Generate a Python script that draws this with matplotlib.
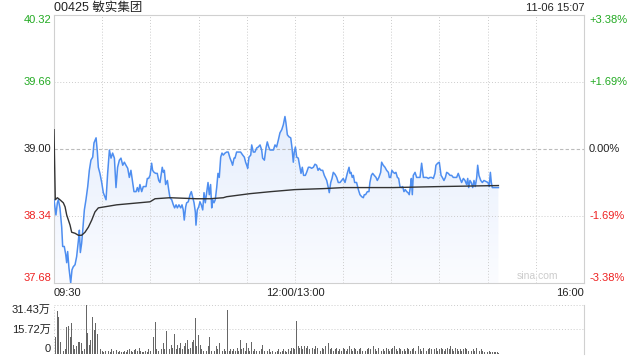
import numpy as np
import matplotlib
matplotlib.use('Agg')
import matplotlib.pyplot as plt
from matplotlib.colors import LinearSegmentedColormap

plt.rcParams['font.family'] = ['Liberation Sans', 'Noto Sans CJK SC', 'DejaVu Sans']

##### data #####
title = '00425 敏实集团'
stamp = '11-06 15:07'
prev_close = 39.00
price_ticks = [40.32, 39.66, 39.00, 38.34, 37.68]
pct_ticks = ['+3.38%', '+1.69%', '0.00%', '-1.69%', '-3.38%']
vol_ticks = [31.43, 15.72, 0]
vol_tick_labels = ['31.43万', '15.72万', '0']
time_labels = ['09:30', '12:00/13:00', '16:00']
time_pos = [0, 150, 330]   # trading minutes since 09:30

# minute offset since open (lunch removed) / last price
times = [0.0, 1.2, 2.1, 2.7, 3.7, 4.8, 5.4, 6.4, 7.3, 7.9, 8.5, 9.3, 10.4, 11.2, 12.0, 13.1,
         14.1, 15.2, 15.8, 16.4, 17.2, 17.9, 18.9, 19.9, 21.0, 22.0, 23.0, 24.1, 24.9, 26.2,
         27.0, 27.6, 28.6, 29.7, 30.7, 32.4, 33.4, 34.5, 35.5, 36.5, 37.6, 38.6, 39.6, 40.7,
         41.7, 42.8, 43.8, 44.8, 45.9, 46.9, 47.9, 49.0, 49.8, 51.1, 51.9, 52.7, 53.5, 54.6,
         55.6, 56.7,
         57.3, 58.1, 58.9, 59.8, 60.8, 61.4, 62.3, 63.3, 64.3, 65.2, 66.0, 66.8, 67.4, 68.1,
         68.7, 69.5, 70.6, 71.4, 72.2, 73.3, 74.3, 75.1, 76.0, 76.8, 77.8, 78.9, 79.7, 80.5,
         81.1, 82.0, 82.6, 83.6, 84.7, 85.5, 86.3, 87.2, 88.0, 88.4, 89.2, 90.1, 90.9, 91.7,
         92.6, 93.4, 94.2, 95.1, 95.9, 96.7, 97.5, 98.2, 98.8, 99.6, 100.4, 101.3, 102.1,
         102.9, 103.8, 104.6, 105.4, 106.5, 107.5, 108.5, 109.6, 110.6, 111.2, 112.1, 112.7,
         113.7, 115.0, 116.2, 117.5, 118.5, 119.3, 120.0, 120.6, 121.4, 122.5, 123.1, 124.1,
         125.1, 126.2, 127.2, 128.3, 129.3, 129.9, 131.0, 132.0, 132.8, 133.7, 134.5, 135.5,
         136.6, 137.6, 138.6, 139.7, 140.7, 141.8, 142.8, 143.8, 144.4, 145.3, 146.3, 147.4,
         148.2, 149.0, 149.6, 150.3, 151.1, 152.1, 153.2, 153.8, 154.6, 155.4, 156.5, 157.3,
         158.4, 159.4, 160.4, 161.5, 162.5, 163.5, 164.4, 165.2, 166.2, 167.3, 168.3,
         168.9, 169.8, 170.8, 171.4, 172.3, 173.1, 173.9, 175.0, 176.0, 177.0, 178.1, 179.1,
         180.1, 181.2, 181.8, 182.6, 183.7, 184.3, 184.9, 185.7, 186.4, 187.2, 188.4, 189.5,
         190.5, 191.6, 192.6, 193.2, 194.0, 195.1, 196.1, 196.7, 197.6, 198.4, 199.4, 200.5,
         201.3, 202.3, 203.4, 204.0, 205.0, 206.1, 207.1, 208.2, 208.8, 209.6, 210.4, 211.3,
         212.1, 212.9, 213.8, 214.6, 215.4, 216.3, 217.1, 217.9, 218.7, 219.6, 220.4, 221.2,
         221.9, 222.5, 223.1, 223.7, 224.8,
         225.8, 226.8, 227.9, 228.9, 230.0, 231.0, 232.0, 233.1, 234.1, 235.1, 236.2, 237.2,
         237.8, 238.9, 239.9, 240.3, 241.0, 241.8, 242.8, 243.7, 244.5, 245.5, 246.6, 247.6,
         248.6, 249.7, 250.7, 251.7, 252.8, 253.8, 254.9, 255.9, 256.9, 257.6, 258.2, 259.0,
         259.8, 260.7, 261.5, 262.3, 263.2, 263.8, 264.6, 265.7, 266.7, 267.7, 269.0, 270.2,
         271.0, 271.7, 272.3, 272.9, 274.0, 275.2, 276.7]
prices = [38.50, 38.35, 38.47, 38.50, 38.42, 38.23, 38.04, 38.04, 37.96, 37.88, 37.99, 37.83,
          37.68, 37.81, 37.84, 37.86, 37.94, 38.10, 38.20, 37.98, 38.07, 38.20, 38.40, 38.50,
          38.63, 38.79, 38.89, 38.92, 39.06, 39.11, 38.97, 38.82, 38.76, 38.67, 38.57, 38.50,
          38.76, 38.99, 38.91, 38.96, 38.91, 38.62, 38.82, 38.89, 38.91, 38.84, 38.87, 38.84,
          38.81, 38.72, 38.79, 38.67, 38.58, 38.58, 38.62, 38.58, 38.65, 38.58, 38.63, 38.63,
          38.63, 38.71, 38.71, 38.74, 38.86, 38.79, 38.77, 38.76, 38.76, 38.69, 38.67, 38.76,
          38.82, 38.77, 38.79, 38.65, 38.69, 38.60, 38.52, 38.50, 38.45, 38.42, 38.45, 38.42,
          38.45, 38.42, 38.45, 38.40, 38.30, 38.43, 38.47, 38.48, 38.55, 38.58, 38.53, 38.47,
          38.38, 38.25, 38.40, 38.43, 38.48, 38.45, 38.40, 38.57, 38.47, 38.58, 38.67, 38.55,
          38.65, 38.42, 38.50, 38.47, 38.50, 38.62, 38.76, 38.72, 38.92, 38.96, 38.94, 38.96,
          38.97, 38.97, 38.91, 38.87, 38.84, 38.91, 38.91,
          38.97, 38.97, 38.97, 38.94, 38.92, 38.87, 38.84, 38.81, 38.92, 38.94, 39.04, 38.97,
          38.97, 39.01, 39.02, 39.04, 38.99, 38.91, 38.89, 39.01, 39.07, 39.02, 38.99, 38.99,
          38.99, 39.04, 39.02, 39.09, 39.16, 39.19, 39.24, 39.32, 39.26, 39.14, 39.12, 39.11,
          39.01, 38.87, 38.97, 39.02, 38.92, 38.91, 38.81, 38.76, 38.82, 38.74, 38.74, 38.77,
          38.82, 38.82, 38.81, 38.82, 38.85, 38.84, 38.79, 38.81, 38.79, 38.79, 38.74,
          38.72, 38.69, 38.62, 38.57, 38.67, 38.71, 38.77, 38.75, 38.72, 38.67, 38.67, 38.69,
          38.71, 38.67, 38.71, 38.76, 38.82, 38.76, 38.77, 38.72, 38.74, 38.67, 38.67, 38.60,
          38.55, 38.53, 38.52, 38.55, 38.55, 38.58, 38.58, 38.67, 38.74, 38.76, 38.74, 38.72,
          38.69, 38.72, 38.77, 38.87, 38.84, 38.82, 38.79, 38.77, 38.72, 38.72, 38.79, 38.77,
          38.76, 38.77, 38.72, 38.71, 38.63, 38.62, 38.63, 38.58, 38.60, 38.58, 38.57, 38.55,
          38.63, 38.71, 38.55, 38.74, 38.77,
          38.72, 38.72, 38.72, 38.86, 38.72, 38.72, 38.72, 38.71, 38.72, 38.72, 38.71, 38.76,
          38.84, 38.86, 38.87, 38.82, 38.74, 38.72, 38.69, 38.72, 38.77, 38.76, 38.74, 38.74,
          38.72, 38.72, 38.72, 38.76, 38.71, 38.67, 38.71, 38.69, 38.65, 38.71, 38.62, 38.69,
          38.67, 38.62, 38.69, 38.63, 38.72, 38.84, 38.74, 38.69, 38.67, 38.69, 38.68, 38.67,
          38.63, 38.77, 38.67, 38.62, 38.62, 38.62, 38.62]

# running average price
avg_times = [0.0, 0.8, 2.1, 3.7, 5.8, 6.9, 7.9, 10.0, 11.0, 13.1, 15.2, 17.2, 19.3, 21.4,
             23.5, 25.5, 27.6, 39.0, 59.8, 62.9, 72.2, 88.8, 97.1, 105.4, 107.5, 122.0,
             135.0, 150.0, 168.0, 180.1, 211.3, 240.3, 276.7]
avg_prices = [39.19, 38.50, 38.52, 38.50, 38.47, 38.43, 38.35, 38.25, 38.18, 38.17, 38.15,
              38.15, 38.18, 38.23, 38.30, 38.38, 38.42, 38.45, 38.48, 38.51, 38.52, 38.51,
              38.51, 38.52, 38.53, 38.56, 38.58, 38.60, 38.61, 38.62, 38.62, 38.63, 38.64]

# volume per minute, in 万 shares
volume = [0, 11.1, 27.8, 23.9, 7.9, 4, 2, 3, 17.5, 18, 11, 19.7, 6, 3, 5, 8, 8, 7, 2, 3,
          31.4, 13.3, 6, 9, 23.9, 15.4, 19.7, 13, 12, 3, 2, 1.5, 2, 4, 2, 1.5, 3, 2, 1, 2.5,
          1.5, 2, 1, 1.5, 2, 1, 2.5, 3, 2, 1.5, 2.5, 3, 2, 4, 2, 1.5, 1, 2, 1.5, 3,
          2, 4, 11, 20.7, 3, 2, 4, 3, 7, 3, 15, 9, 3, 6, 4, 13, 3, 6, 4, 7,
          3, 5, 7, 9, 3, 4, 8, 9, 22.9, 5, 12, 6, 3, 2, 4, 2, 5, 11, 2, 3,
          2, 5, 3, 7, 11, 2, 3, 2, 28.2, 2, 3, 2, 3, 2, 4, 2, 9, 3, 4, 2,
          7, 4, 2, 8, 2, 3, 2, 6, 2, 3, 6, 2, 7, 2, 3, 1.5, 2, 3, 1.5, 2,
          3, 1.5, 2, 3, 2, 1.5, 3, 2, 4, 4, 3, 21.4, 5, 4, 5, 3, 5, 4, 5, 3,
          5, 4, 3, 5, 4, 3, 2, 4, 3, 5, 2, 7, 3, 4, 2, 3, 4, 2, 3, 2,
          4, 3, 2, 3, 5, 3, 2, 4, 3, 2, 3, 4, 2, 3, 2, 3, 4, 3, 2, 5,
          3, 2, 4, 3, 2, 3, 2, 4, 3, 2, 3, 4, 5, 3, 2, 4, 3, 2, 3, 2,
          4, 3, 2, 3, 4, 2, 3, 5, 3, 2, 4, 3, 2, 3, 4, 3, 2, 3, 4, 2,
          3, 4, 3, 2, 3, 4, 3, 5, 3, 2, 4, 3, 2, 3, 2, 3, 4, 3, 2, 3,
          2, 3, 2, 4, 3, 2, 3, 2, 1.5, 2, 1.5, 2, 1.5, 1, 1, 1, 1, 0.5]
################

green = '#22aa22'
red = '#ee2222'
tick_colors = [green, green, '#222222', red, red]

fig = plt.figure(figsize=(6.4, 3.6), dpi=100)
ax = fig.add_axes([54/640, 1-283/360, 530/640, 268/360])
axv = fig.add_axes([54/640, 1-354/360, 530/640, 49/360])

t = np.array(times)
p = np.array(prices)

# gradient fill below price line
cmap = LinearSegmentedColormap.from_list('fill', ['#fbfcff', '#d9e6fb'])
grad = np.linspace(0, 1, 256).reshape(-1, 1)
poly = ax.fill_between(t, p, price_ticks[-1], color='none', lw=0)
im = ax.imshow(grad, extent=[0, t[-1], price_ticks[-1], price_ticks[0]], origin='lower',
               aspect='auto', cmap=cmap, zorder=1)
im.set_clip_path(poly.get_paths()[0], transform=ax.transData)

ax.plot(t, p, color='#4e8ef0', lw=1.1, zorder=3)
ax.plot(avg_times, avg_prices, color='#333333', lw=1.0, zorder=4)

ax.set_xlim(0, 330)
ax.set_ylim(price_ticks[-1], price_ticks[0])
ax.set_xticks([])
ax.set_yticks([])
for s in ax.spines.values():
    s.set_color('#d0d0d0')
    s.set_linewidth(0.8)

# grid
for gx in range(30, 330, 30):
    ax.axvline(gx, color='#cccccc', lw=0.7, ls=(0, (1, 2)), zorder=2)
for gy in [price_ticks[1], price_ticks[3]]:
    ax.axhline(gy, color='#cccccc', lw=0.7, ls=(0, (1, 2)), zorder=2)
ax.axhline(prev_close, color='#bbbbbb', lw=0.8, ls=(0, (3, 2)), zorder=2)

# price labels
for i, (v, lab, c) in enumerate(zip(price_ticks, pct_ticks, tick_colors)):
    va = 'top' if i == 0 else ('bottom' if i == len(price_ticks) - 1 else 'center')
    ax.annotate('%.2f' % v, xy=(0, v), xycoords=('axes fraction', 'data'),
                xytext=(-3, 0), textcoords='offset pixels', ha='right', va=va,
                fontsize=8, color=c)
    ax.annotate(lab, xy=(1, v), xycoords=('axes fraction', 'data'),
                xytext=(5, 0), textcoords='offset pixels', ha='left', va=va,
                fontsize=8, color=c)

# time labels
for pos, lab, ha in zip(time_pos, time_labels, ['left', 'center', 'right']):
    ax.annotate(lab, xy=(pos, 0), xycoords=('data', 'axes fraction'),
                xytext=(0, -10), textcoords='offset pixels', ha=ha, va='center',
                fontsize=8, color='#222222')

fig.text(54/640, 1-8/360, title, ha='left', va='center', fontsize=9, color='#222222')
fig.text(584/640, 1-8/360, stamp, ha='right', va='center', fontsize=8, color='#222222')
ax.annotate('sina.com', xy=(0.912, 0), xycoords='axes fraction', xytext=(0, 7),
            textcoords='offset pixels', ha='center', va='center', fontsize=7.5,
            color='#cccccc')

# volume
axv.bar(np.arange(len(volume)), volume, width=0.55, color='#666666', zorder=3)
axv.set_xlim(0, 330)
axv.set_ylim(0, vol_ticks[0])
axv.set_xticks([])
axv.set_yticks([])
for s in ['top', 'bottom', 'left']:
    axv.spines[s].set_visible(False)
axv.spines['right'].set_color('#d0d0d0')
axv.spines['right'].set_linewidth(0.8)
for gy in vol_ticks:
    axv.axhline(gy, color='#cccccc', lw=0.7, ls=(0, (1, 2)), zorder=1)
axv.axvline(0, color='#cccccc', lw=0.7, ls=(0, (1, 2)), zorder=1)
for i, (v, lab) in enumerate(zip(vol_ticks, vol_tick_labels)):
    va = 'top' if i == 0 else ('bottom' if i == len(vol_ticks) - 1 else 'center')
    axv.annotate(lab, xy=(0, v), xycoords=('axes fraction', 'data'),
                 xytext=(-3, 0), textcoords='offset pixels', ha='right', va=va,
                 fontsize=8, color='#222222')

plt.savefig('out.png', dpi=100)
